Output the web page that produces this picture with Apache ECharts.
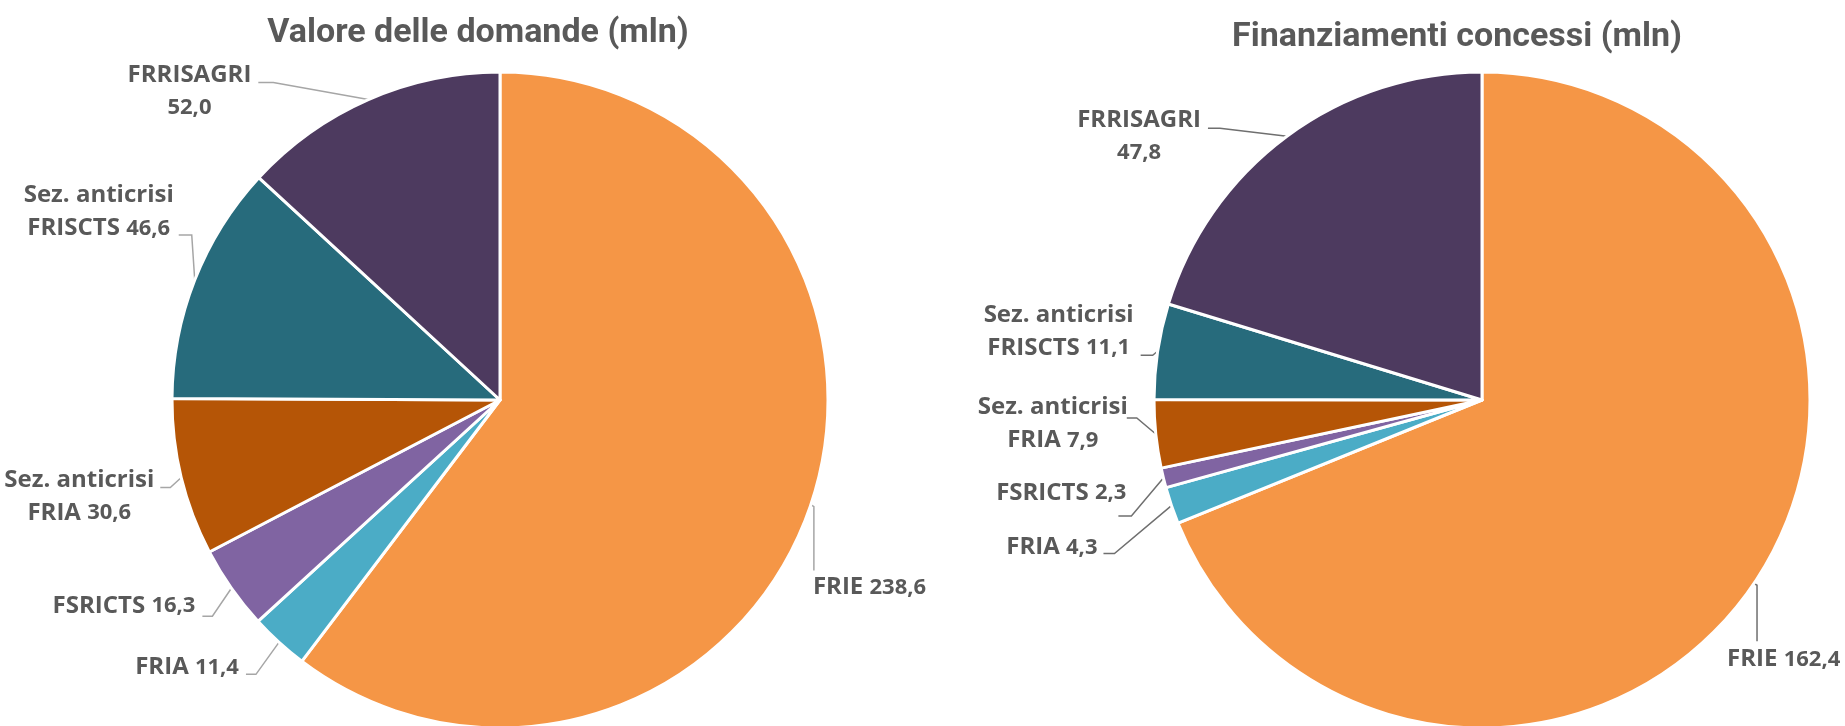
<!DOCTYPE html>
<html>
<head>
<meta charset="utf-8">
<script src="https://cdn.jsdelivr.net/npm/echarts@6/dist/echarts.min.js"></script>
<style>
  html, body { margin: 0; padding: 0; background: #fff; }
  #main { width: 1845px; height: 726px; }
</style>
</head>
<body>
<div id="main"></div>
<script>
// categories, clockwise from 12 o'clock
var categories = ['FRIE', 'FRIA', 'FSRICTS', 'Sez. anticrisi FRIA', 'Sez. anticrisi FRISCTS', 'FRRISAGRI'];
var domande = [238.6, 11.4, 16.3, 30.6, 46.6, 52.0];        // Valore delle domande (mln)
var finanziamenti = [162.4, 4.3, 2.3, 7.9, 11.1, 47.8];    // Finanziamenti concessi (mln)
var titles = ['Valore delle domande (mln)', 'Finanziamenti concessi (mln)'];

var colors = ['#F59646', '#4BACC6', '#8064A2', '#B55506', '#276B7C', '#4D3A5F'];

// label placement, offsets from each slice's anchor point (excel style manual labels)
// t = label point, e = elbow of leader, p = end of leader
var leftPlace = [
  { t: [2, 83], e: [3, 2], p: [3, 66], align: 'left' },
  { t: [-40, 25], e: [-23, 32], p: [-33, 32] },
  { t: [-36, 18], e: [-19, 28], p: [-29, 28] },
  { t: [-27, 19], e: [-11, 10], p: [-21, 10] },
  { t: [-21, -68], e: [-3, -45], p: [-16, -45] },
  { t: [-117, -8], e: [-95, -17], p: [-110, -17] }
];
var rightPlace = [
  { t: [-27, 76], e: [3, 2], p: [3, 58], align: 'left' },
  { t: [-74, 42], e: [-57, 48], p: [-68, 48] },
  { t: [-37, 15], e: [-32, 38], p: [-45, 38] },
  { t: [-28, -10], e: [-19, -16], p: [-29, -16] },
  { t: [-24, -20], e: [-5, 4], p: [-17, 4] },
  { t: [-86, 0], e: [-67, -8], p: [-79, -8] }
];

var titleFont = 'Roboto, "Open Sans", sans-serif';
var labelFont = '"Open Sans", Roboto, sans-serif';

function fmtLabel(p) {
  var name = p.name.replace('Sez. anticrisi ', 'Sez. anticrisi\n');
  var val = p.value.toFixed(1).replace('.', ',');
  if (p.name === 'FRRISAGRI') {
    return '{n|' + name + '}\n{v|' + val + '}';
  }
  return '{n|' + name + ' }{v|' + val + '}';
}

function placer(place) {
  return function (p) {
    var a = p.labelLinePoints && p.labelLinePoints[0];
    if (!a) return {};
    var o = place[p.dataIndex];
    return {
      x: a[0] + o.t[0],
      y: a[1] + o.t[1],
      align: o.align || 'right',
      verticalAlign: 'middle',
      labelLinePoints: [
        [a[0], a[1]],
        [a[0] + o.e[0], a[1] + o.e[1]],
        [a[0] + o.p[0], a[1] + o.p[1]]
      ]
    };
  };
}

function makeData(values) {
  return categories.map(function (c, i) {
    return { name: c, value: values[i], itemStyle: { color: colors[i] } };
  });
}

function pieSeries(values, center, place, lineColor) {
  return {
    type: 'pie',
    center: center,
    radius: 328,
    startAngle: 90,
    clockwise: true,
    avoidLabelOverlap: false,
    emphasis: { disabled: true },
    itemStyle: { borderColor: '#ffffff', borderWidth: 3 },
    label: {
      show: true,
      position: 'outside',
      formatter: fmtLabel,
      color: '#595959',
      lineHeight: 33,
      rich: {
        n: { fontFamily: labelFont, fontWeight: 'bold', fontSize: 24, color: '#595959', align: 'center', lineHeight: 33 },
        v: { fontFamily: labelFont, fontWeight: 'bold', fontSize: 22, color: '#595959', align: 'center', lineHeight: 33 }
      }
    },
    labelLine: {
      show: true,
      length: 10,
      length2: 10,
      lineStyle: { color: lineColor, width: 1.5 }
    },
    labelLayout: placer(place),
    data: makeData(values)
  };
}

var chart = echarts.init(document.getElementById('main'));

var option = {
  animation: false,
  backgroundColor: '#ffffff',
  title: [{
    text: titles[0],
    left: 473,
    top: 11,
    textAlign: 'center',
    textStyle: { fontFamily: titleFont, fontWeight: 'bold', fontSize: 34, color: '#595959' }
  }, {
    text: titles[1],
    left: 1452,
    top: 15,
    textAlign: 'center',
    textStyle: { fontFamily: titleFont, fontWeight: 'bold', fontSize: 34, color: '#595959' }
  }],
  series: [
    pieSeries(domande, [500, 400], leftPlace, '#a6a6a6'),
    pieSeries(finanziamenti, [1482, 400], rightPlace, '#6f6f6f')
  ]
};

chart.setOption(option);
</script>
</body>
</html>
